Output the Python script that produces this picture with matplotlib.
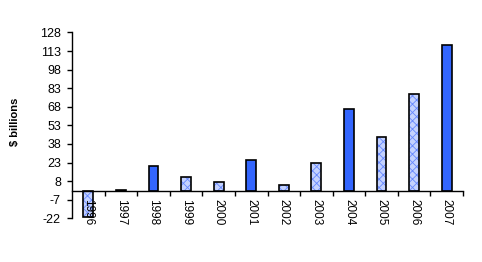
import numpy as np
import matplotlib
matplotlib.use("Agg")
import matplotlib.pyplot as plt

plt.rcParams['font.family'] = ['Liberation Sans', 'DejaVu Sans']
plt.rcParams['hatch.linewidth'] = 0.6

years = ['1996', '1997', '1998', '1999', '2000', '2001',
         '2002', '2003', '2004', '2005', '2006', '2007']
values = [-21, 1, 20, 11, 7, 25, 4.5, 22.5, 66, 43.5, 78, 118]
solid = [False, False, True, False, False, True,
         False, False, True, False, False, True]
yticks = [-22, -7, 8, 23, 38, 53, 68, 83, 98, 113, 128]

blue = '#3366FF'

fig = plt.figure(figsize=(4.82, 2.62), dpi=100)
ax = fig.add_axes([72 / 482, 1 - 218.3 / 262, (463 - 72) / 482, (218.3 - 32.5) / 262])

x = np.arange(len(years))
w = 0.3
for xi, v, s in zip(x, values, solid):
    if s:
        ax.bar(xi, v, width=w, color=blue, edgecolor='black', linewidth=1.2, zorder=1)
    else:
        # checkered fill: hatch layer then outline
        ax.bar(xi, v, width=w, color='#C4D2FF', edgecolor='#6688FF', hatch='xxxx',
               linewidth=0, zorder=1)
        ax.bar(xi, v, width=w, fill=False, edgecolor='black', linewidth=1.2, zorder=1.1)

ax.set_xlim(-0.5, len(years) - 0.5)
ax.set_ylim(-22, 128)
ax.set_yticks(yticks)
ax.set_yticklabels([str(t) for t in yticks], fontsize=9)

ax.spines['top'].set_visible(False)
ax.spines['right'].set_visible(False)
ax.spines['bottom'].set_position(('data', 0))
ax.spines['left'].set_linewidth(1.0)
ax.spines['bottom'].set_linewidth(1.0)

ax.set_xticks(x)
ax.set_xticklabels(years, rotation=270, fontsize=8.5, va='top', ha='center')
ax.set_xticks(np.arange(len(years)) + 0.5, minor=True)
ax.tick_params(axis='x', which='major', length=0, pad=6)
ax.tick_params(axis='x', which='minor', direction='out', length=3.5, width=1)
ax.tick_params(axis='y', direction='out', length=3.5, width=1, pad=4.5)

fig.text(15 / 482, 1 - 122 / 262, '$ billions', rotation=90, fontsize=8,
         fontweight='bold', ha='center', va='center')

fig.savefig('out.png', dpi=100)
